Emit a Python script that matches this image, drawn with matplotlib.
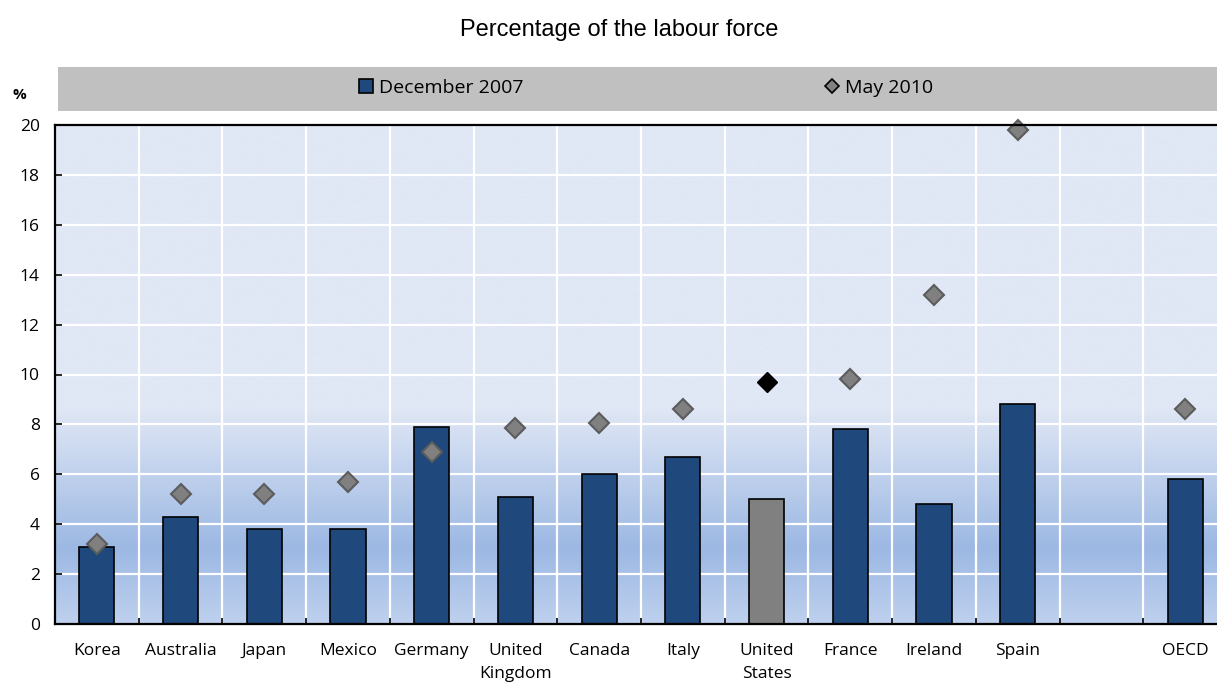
import matplotlib.pyplot as plt
import numpy as np
from matplotlib.colors import LinearSegmentedColormap
from matplotlib.lines import Line2D
from matplotlib.patches import Patch, Rectangle

# data (gap slot before OECD)
countries = ["Korea", "Australia", "Japan", "Mexico", "Germany", "United\nKingdom",
             "Canada", "Italy", "United\nStates", "France", "Ireland", "Spain", "", "OECD"]
dec_2007 = [3.1, 4.3, 3.8, 3.8, 7.9, 5.1, 6.0, 6.7, 5.0, 7.8, 4.8, 8.8, np.nan, 5.8]
may_2010 = [3.2, 5.2, 5.2, 5.7, 6.9, 7.85, 8.05, 8.6, 9.7, 9.8, 13.2, 19.8, np.nan, 8.6]
highlight = "United\nStates"
y_ticks = [0, 2, 4, 6, 8, 10, 12, 14, 16, 18, 20]

BAR_BLUE = "#1f487c"
BAR_GREY = "#808080"
FONT = ["Open Sans", "DejaVu Sans"]

W, H = 1217, 683
fig = plt.figure(figsize=(W / 100, H / 100), dpi=100)

# axes runs slightly past the right edge, as in the reference
x0, x1, ytop, ybot = 55, 1227, 125, 624
ax = fig.add_axes([x0 / W, (H - ybot) / H, (x1 - x0) / W, (ybot - ytop) / H])

n = len(countries)
pos = np.arange(n)
ax.set_xlim(-0.5, n - 0.5)
ax.set_ylim(0, 20)

# background gradient
stops = [(0.0, "#bed0ee"), (3.0 / 20, "#9cb8e3"), (8.6 / 20, "#e0e7f5"), (1.0, "#e0e7f5")]
cmap = LinearSegmentedColormap.from_list("bg", stops)
grad = np.linspace(0, 1, 400).reshape(-1, 1)
ax.imshow(grad, cmap=cmap, origin="lower", aspect="auto",
          extent=[-0.5, n - 0.5, 0, 20], zorder=0)

# grid
for y in y_ticks[1:]:
    ax.axhline(y, color="white", lw=1.6, zorder=1)
for b in np.arange(0.5, n - 1, 1.0):
    ax.axvline(b, color="white", lw=1.6, zorder=1)

# bars
colors = [BAR_GREY if c == highlight else BAR_BLUE for c in countries]
ax.bar(pos, dec_2007, width=0.42, color=colors, edgecolor="black", lw=1.2, zorder=3)

# diamonds
for i, (c, v) in enumerate(zip(countries, may_2010)):
    if np.isnan(v):
        continue
    if c == highlight:
        ax.plot(i, v, "D", ms=10, mfc="black", mec="black", zorder=4, clip_on=False)
    else:
        ax.plot(i, v, "D", ms=10, mfc="#808080", mec="#5c5c5c", mew=1.5, zorder=4, clip_on=False)

# axes styling
ax.spines["right"].set_visible(False)
for s in ["left", "bottom", "top"]:
    ax.spines[s].set_linewidth(1.6)
    ax.spines[s].set_color("black")
    ax.spines[s].set_zorder(5)

ax.set_yticks(y_ticks)
ax.set_yticklabels([str(t) for t in y_ticks], fontsize=12.5, family=FONT)
ax.tick_params(axis="y", direction="in", length=5, width=1.2, pad=11)

ax.set_xticks(pos)
ax.set_xticklabels(countries, fontsize=12.5, family=FONT, linespacing=1.55)
ax.set_xticks(np.arange(0.5, n - 1, 1.0), minor=True)
ax.tick_params(axis="x", which="major", length=0, pad=14)
ax.tick_params(axis="x", which="minor", direction="in", length=4, width=1.2)

# title and unit
fig.text(619 / W, 1 - 30 / H, "Percentage of the labour force", ha="center", va="center",
         fontsize=17, family=["Liberation Sans", "DejaVu Sans"])
fig.text(19 / W, 1 - 95 / H, "%", ha="center", va="center", fontsize=11,
         fontweight="bold", family=FONT)

# legend band
fig.add_artist(Rectangle((58 / W, 1 - 111 / H), (W - 58) / W, 44 / H,
                         transform=fig.transFigure, facecolor="#c0c0c0", edgecolor="none"))
handles = [Patch(facecolor=BAR_BLUE, edgecolor="black", lw=1.2),
           Line2D([], [], marker="D", ls="none", ms=7, mfc="#808080", mec="black", mew=1.2)]
fig.legend(handles, ["December 2007", "May 2010"], loc="center",
           bbox_to_anchor=(646 / W, 1 - 88 / H), ncol=2, frameon=False,
           prop={"family": FONT, "size": 14}, handlelength=0.72, handleheight=0.72,
           handletextpad=0.3, columnspacing=15.5)

fig.savefig("out.png", dpi=100)
